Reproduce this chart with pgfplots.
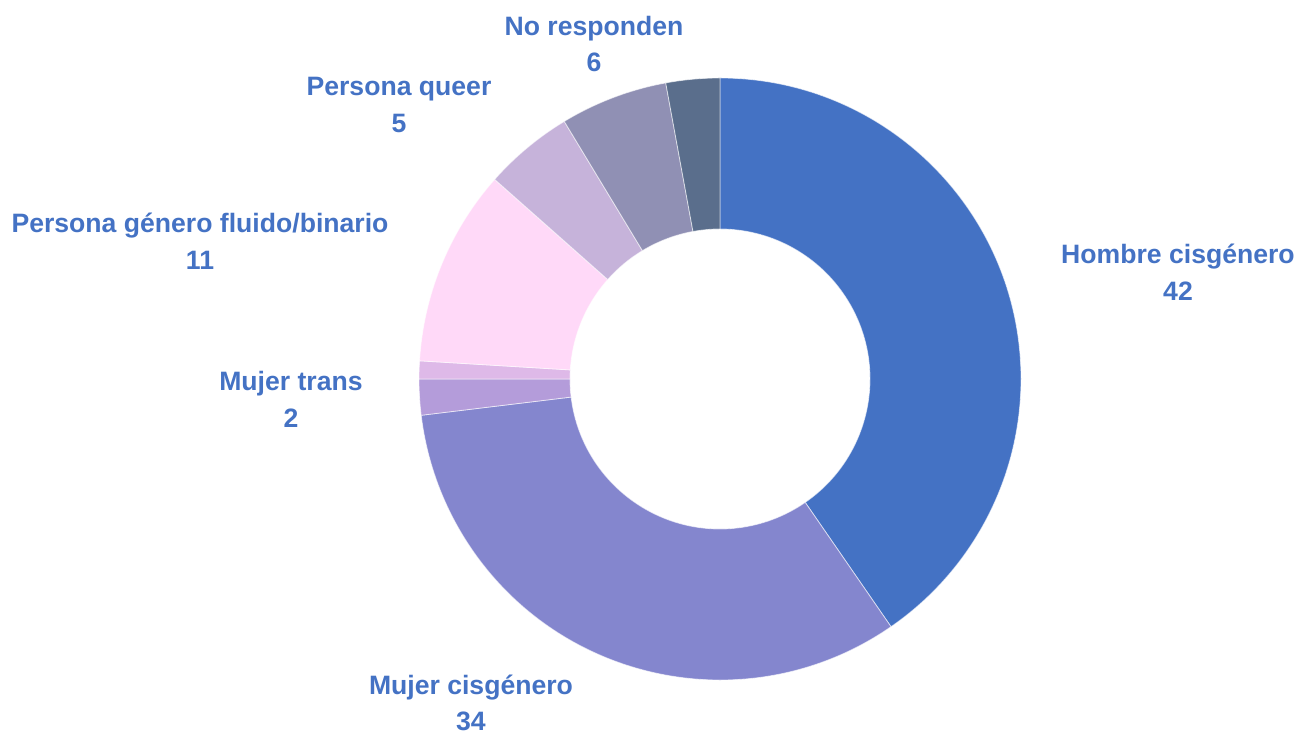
\documentclass[border=0pt]{standalone}
\usepackage{pgfplots}
\pgfplotsset{compat=1.18}
\usepackage{pgfplotstable}
\usepackage{fontspec}
\setmainfont{Liberation Sans}
\definecolor{c0}{HTML}{4472C4}
\definecolor{c1}{HTML}{8486CE}
\definecolor{c2}{HTML}{B49CDA}
\definecolor{c3}{HTML}{DEB9E8}
\definecolor{c4}{HTML}{FFD9F8}
\definecolor{c5}{HTML}{C6B3DA}
\definecolor{c6}{HTML}{9090B4}
\definecolor{c7}{HTML}{5A6E8C}
\definecolor{lab}{HTML}{4472C4}

\pgfplotstableread{
value color
42 c0
34 c1
2 c2
1 c3
11 c4
5 c5
6 c6
3 c7
}\datatable

\begin{document}
\begin{tikzpicture}
\pgfplotstablegetrowsof{\datatable}
\pgfmathtruncatemacro\N{\pgfplotsretval-1}
\def\total{0}
\pgfplotsforeachungrouped \i in {0,...,\N}{%
  \pgfplotstablegetelem{\i}{value}\of\datatable
  \pgfmathsetmacro\total{\total+\pgfplotsretval}%
}
\xdef\total{\total}
\begin{axis}[x=0.5pt,y=0.5pt,xmin=0,xmax=1298,ymin=0,ymax=733,
  hide axis,clip=false,scale only axis]
\path (axis cs:0,0) rectangle (axis cs:1298,733);
\def\cum{0}
\pgfplotsforeachungrouped \i in {0,...,\N}{%
  \pgfplotstablegetelem{\i}{value}\of\datatable
  \let\sv\pgfplotsretval
  \pgfplotstablegetelem{\i}{color}\of\datatable
  \let\sc\pgfplotsretval
  \pgfmathsetmacro\aone{90-\cum/\total*360}%
  \pgfmathsetmacro\cum{\cum+\sv}%
  \pgfmathsetmacro\atwo{90-\cum/\total*360}%
  \pgfmathsetmacro\xo{720+301*cos(\aone)}%
  \pgfmathsetmacro\yo{354+301*sin(\aone)}%
  \pgfmathsetmacro\xin{720+150*cos(\atwo)}%
  \pgfmathsetmacro\yin{354+150*sin(\atwo)}%
  \edef\temp{\noexpand\fill[\sc, draw=white, draw opacity=0.6, line width=0.4pt]
    (axis cs:\xo,\yo) arc[start angle=\aone, end angle=\atwo, radius=150.5pt]
    -- (axis cs:\xin,\yin) arc[start angle=\atwo, end angle=\aone, radius=75pt] -- cycle;}%
  \temp
}
\tikzset{lbl/.style={font=\fontsize{13.3}{18.3}\selectfont\bfseries, text=lab, align=center, inner sep=0pt}}
\node[lbl] at (axis cs:594,689) {No responden\\6};
\node[lbl] at (axis cs:399,628) {Persona queer\\5};
\node[lbl] at (axis cs:200,492) {Persona género fluido/binario\\11};
\node[lbl] at (axis cs:291,333.5) {Mujer trans\\2};
\node[lbl] at (axis cs:471,30) {Mujer cisgénero\\34};
\node[lbl] at (axis cs:1178,460.5) {Hombre cisgénero\\42};
\end{axis}
\end{tikzpicture}
\end{document}
